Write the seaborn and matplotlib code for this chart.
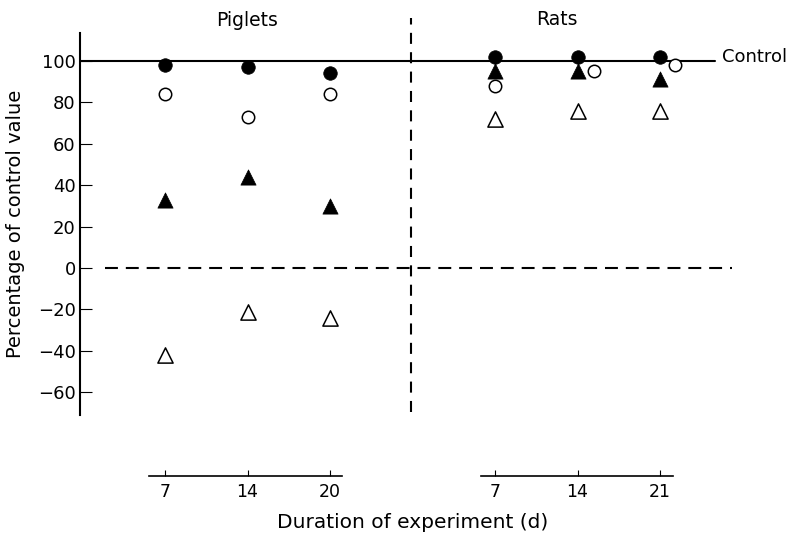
import numpy as np
import pandas as pd
import matplotlib
matplotlib.use("Agg")
import matplotlib.pyplot as plt
import seaborn as sns

# ---------------- data ----------------
piglet_days = [7, 14, 20]
rat_days = [7, 14, 21]

piglets_filled_circle = [98, 97, 94]
piglets_open_circle = [84, 73, 84]
piglets_filled_triangle = [33, 44, 30]
piglets_open_triangle = [-42, -21, -24]

rats_filled_circle = [102, 102, 102]
rats_open_circle = [88, 95, 98]
rats_filled_triangle = [95, 95, 91]
rats_open_triangle = [72, 76, 76]

y_ticks = [-60, -40, -20, 0, 20, 40, 60, 80, 100]
group_titles = ["Piglets", "Rats"]
control_label = "Control"
x_label = "Duration of experiment (d)"
y_label = "Percentage of control value"

# ---------------- style ----------------
sns.set_theme(style="white")
plt.rcParams["font.family"] = ["DejaVu Sans"]
plt.rcParams["font.size"] = 13
plt.rcParams["text.color"] = "black"
plt.rcParams["axes.labelcolor"] = "black"
plt.rcParams["xtick.color"] = "black"
plt.rcParams["ytick.color"] = "black"

W, H = 794, 536
fig = plt.figure(figsize=(W / 100, H / 100), dpi=100)

# pixel helpers for layout only
X0_PX, STEP_PX = 165.0, 82.5          # category position 0 and spacing (px)
def px_to_pos(px):
    return (px - X0_PX) / STEP_PX

AX_L, AX_R, AX_T, AX_B = 80, 794, 33, 415
ax = fig.add_axes([AX_L / W, (H - AX_B) / H, (AX_R - AX_L) / W, (AX_B - AX_T) / H])
xlim = (px_to_pos(AX_L), px_to_pos(AX_R))
ax.set_xlim(*xlim)
ax.set_ylim(-70.9, 113.4)

# positions: piglets at 0,1,2 ; rats at 4,5,6
pig_pos = np.arange(len(piglet_days))
rat_pos = np.arange(len(rat_days)) + 4
rat_open_circle_dodge = np.array([0.0, 0.2, 0.18])

rows = []
def add(pos, vals, series):
    for p, v in zip(pos, vals):
        rows.append({"pos": p, "value": v, "series": series})

add(pig_pos, piglets_filled_circle, "filled_circle")
add(rat_pos, rats_filled_circle, "filled_circle")
add(pig_pos, piglets_open_circle, "open_circle")
add(rat_pos + rat_open_circle_dodge, rats_open_circle, "open_circle")
add(pig_pos, piglets_filled_triangle, "filled_triangle")
add(rat_pos, rats_filled_triangle, "filled_triangle")
add(pig_pos, piglets_open_triangle, "open_triangle")
add(rat_pos, rats_open_triangle, "open_triangle")
df = pd.DataFrame(rows)

styles = {
    "filled_circle": dict(marker="o", s=95, color="black", edgecolor="black", linewidth=0.5),
    "open_circle": dict(marker="o", s=80, color="white", edgecolor="black", linewidth=1.1),
    "filled_triangle": dict(marker="^", s=120, color="black", edgecolor="black", linewidth=0.5),
    "open_triangle": dict(marker="^", s=120, color="white", edgecolor="black", linewidth=1.1),
}

# reference lines
ax.axhline(100, xmin=0, xmax=(715 - AX_L) / (AX_R - AX_L), color="black", lw=1.5, zorder=1)
ax.axhline(0, xmin=(105 - AX_L) / (AX_R - AX_L), xmax=(732 - AX_L) / (AX_R - AX_L),
           color="black", lw=1.5, dashes=(6.2, 3.8), zorder=1)
ax.axvline(px_to_pos(411), ymin=(AX_B - 412) / (AX_B - AX_T), ymax=(AX_B - 18) / (AX_B - AX_T),
           color="black", lw=1.5, dashes=(5.3, 4.0), clip_on=False, zorder=1)

for series, st in styles.items():
    sub = df[df["series"] == series]
    sns.scatterplot(data=sub, x="pos", y="value", ax=ax, legend=False, zorder=3, **st)

# axes styling
for side in ["top", "right", "bottom"]:
    ax.spines[side].set_visible(False)
ax.spines["left"].set_color("black")
ax.spines["left"].set_linewidth(1.5)
ax.set_xticks([])
ax.set_yticks(y_ticks)
ax.set_yticklabels([f"{t}".replace("-", "\u2212") for t in y_ticks])
ax.tick_params(axis="y", direction="in", length=8.5, width=0.8, pad=3,
               labelsize=13, colors="black", left=True)
ax.set_xlabel("")
ax.set_ylabel("")
ax.grid(False)

fig.text(16 / W, 1 - 224 / H, y_label, rotation=90, ha="center", va="center",
         fontsize=14, color="black")

# group titles and control label
fig.text(247 / W, 1 - 26 / H, group_titles[0], ha="center", va="baseline", fontsize=13.5, color="black")
fig.text(557 / W, 1 - 25 / H, group_titles[1], ha="center", va="baseline", fontsize=13.5, color="black")
fig.text(722 / W, 1 - 61.5 / H, control_label, ha="left", va="baseline", fontsize=13, color="black")

# detached duration axes
BOT_Y = 476
def make_bottom(pos, labels, lo_px, hi_px):
    b = fig.add_axes([AX_L / W, (H - BOT_Y) / H, (AX_R - AX_L) / W, 0.0001])
    b.set_xlim(*xlim)
    b.patch.set_alpha(0)
    for side in ["top", "right", "left"]:
        b.spines[side].set_visible(False)
    b.spines["bottom"].set_bounds(px_to_pos(lo_px), px_to_pos(hi_px))
    b.spines["bottom"].set_color("black")
    b.spines["bottom"].set_linewidth(1.2)
    b.set_yticks([])
    b.set_xticks(pos)
    b.set_xticklabels([str(d) for d in labels])
    b.tick_params(axis="x", direction="in", length=4, width=0.8, pad=5,
                  labelsize=12.5, colors="black", bottom=True)
    b.grid(False)
    return b

make_bottom(pig_pos, piglet_days, 149, 342)
make_bottom(rat_pos, rat_days, 481, 673)

fig.text(413 / W, 1 - 528 / H, x_label, ha="center", va="baseline", fontsize=14.5, color="black")

fig.savefig("out.png", dpi=100)
